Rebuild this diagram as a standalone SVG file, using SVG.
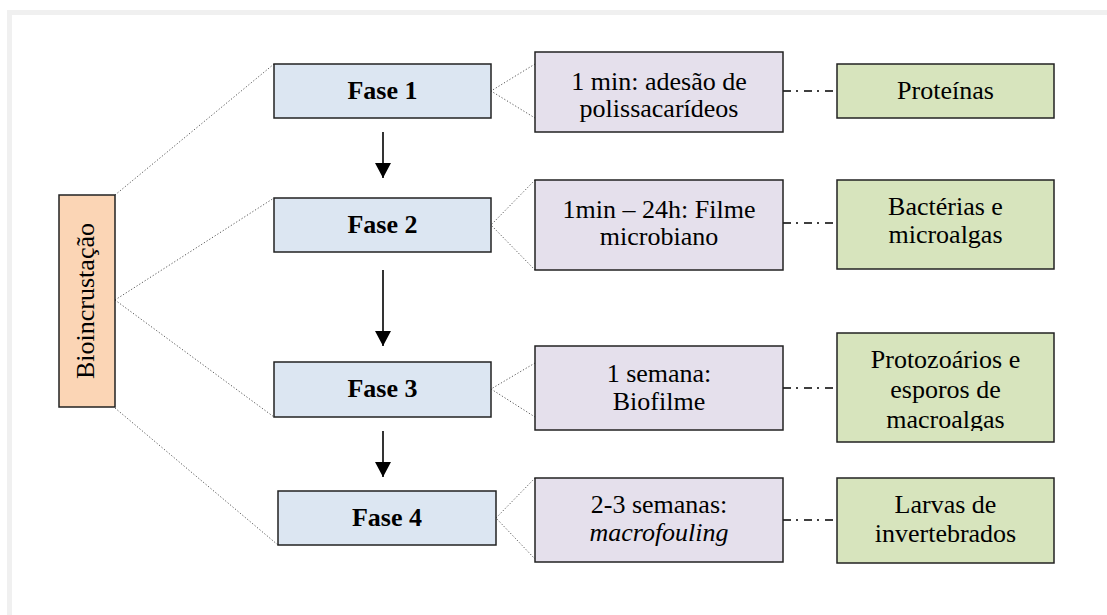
<svg xmlns="http://www.w3.org/2000/svg" width="1107" height="615" viewBox="0 0 1107 615">
<style>
.t{font-family:'Liberation Serif','Times New Roman','DejaVu Serif',serif;font-size:26px;fill:#000;text-anchor:middle}
.b{font-weight:bold}
.i{font-style:italic}
.box{stroke:#222;stroke-width:1.5}
.fase{fill:#dce6f2}
.main{fill:#fbd5b5}
.time{fill:#e5e0ec}
.org{fill:#d7e4bd}
.dot{fill:none;stroke:#444;stroke-width:0.9;stroke-dasharray:1.2 2}
.dd{fill:none;stroke:#000;stroke-width:1.6;stroke-dasharray:8 5 2 6}
.arr{fill:none;stroke:#000;stroke-width:1.6}
</style>
<defs>
<marker id="ah" markerWidth="16" markerHeight="16" viewBox="0 0 16 16" refX="15" refY="8" orient="auto" markerUnits="userSpaceOnUse">
<path d="M0,0 L15,8 L0,16 Z" fill="#000"/>
</marker>
<clipPath id="clip3"><rect x="837" y="333" width="217" height="98"/></clipPath>
</defs>
<rect x="0" y="0" width="1107" height="615" fill="#fff"/>
<rect x="7" y="10" width="1100" height="5" fill="#f0f0f0"/>
<rect x="7" y="10" width="5" height="605" fill="#f0f0f0"/>

<g id="connectors">
<line class="dot" x1="115" y1="195" x2="274" y2="64"/>
<line class="dot" x1="115" y1="300" x2="274" y2="198"/>
<line class="dot" x1="115" y1="300" x2="274" y2="417"/>
<line class="dot" x1="115" y1="408" x2="278" y2="545"/>
<polyline class="dot" points="535,64 491,91 535,118"/>
<polyline class="dot" points="535,180 491,225 535,270"/>
<polyline class="dot" points="535,363 491,389 535,417"/>
<polyline class="dot" points="535,478 496,518 535,559"/>
<line class="dd" x1="783" y1="91" x2="837" y2="91"/>
<line class="dd" x1="783" y1="223" x2="837" y2="223"/>
<line class="dd" x1="783" y1="388" x2="837" y2="388"/>
<line class="dd" x1="783" y1="520" x2="837" y2="520"/>
<line class="arr" x1="383" y1="132" x2="383" y2="178" marker-end="url(#ah)"/>
<line class="arr" x1="383" y1="270" x2="383" y2="346" marker-end="url(#ah)"/>
<line class="arr" x1="383" y1="431" x2="383" y2="477" marker-end="url(#ah)"/>
</g>

<g id="bioincrustacao">
<rect class="box main" x="59" y="195" width="56" height="212"/>
<text class="t" font-family="Liberation Serif, serif" x="87" y="308" transform="rotate(-90 87 301)">Bioincrustação</text>
</g>

<g id="fase1">
<rect class="box fase" x="274" y="64" width="217" height="54"/>
<text class="t b" font-family="Liberation Serif, serif" x="382.5" y="99">Fase 1</text>
</g>
<g id="fase2">
<rect class="box fase" x="274" y="198" width="217" height="54"/>
<text class="t b" font-family="Liberation Serif, serif" x="382.5" y="233">Fase 2</text>
</g>
<g id="fase3">
<rect class="box fase" x="274" y="362" width="217" height="55"/>
<text class="t b" font-family="Liberation Serif, serif" x="382.5" y="397">Fase 3</text>
</g>
<g id="fase4">
<rect class="box fase" x="278" y="491" width="218" height="54"/>
<text class="t b" font-family="Liberation Serif, serif" x="387" y="526">Fase 4</text>
</g>

<g id="tempo1" font-family="Liberation Serif, serif">
<rect class="box time" x="535" y="52" width="248" height="80"/>
<text class="t" x="659" y="90">1 min: adesão de</text>
<text class="t" x="659" y="117">polissacarídeos</text>
</g>
<g id="tempo2" font-family="Liberation Serif, serif">
<rect class="box time" x="535" y="180" width="248" height="90"/>
<text class="t" x="659" y="218">1min – 24h: Filme</text>
<text class="t" x="659" y="245">microbiano</text>
</g>
<g id="tempo3" font-family="Liberation Serif, serif">
<rect class="box time" x="535" y="346" width="248" height="84"/>
<text class="t" x="659" y="382">1 semana:</text>
<text class="t" x="659" y="410">Biofilme</text>
</g>
<g id="tempo4" font-family="Liberation Serif, serif">
<rect class="box time" x="535" y="478" width="248" height="84"/>
<text class="t" x="659" y="513">2-3 semanas:</text>
<text class="t i" x="659" y="541">macrofouling</text>
</g>

<g id="org1" font-family="Liberation Serif, serif">
<rect class="box org" x="837" y="64" width="217" height="54"/>
<text class="t" x="945.5" y="99">Proteínas</text>
</g>
<g id="org2" font-family="Liberation Serif, serif">
<rect class="box org" x="837" y="180" width="217" height="89"/>
<text class="t" x="945.5" y="215">Bactérias e</text>
<text class="t" x="945.5" y="243">microalgas</text>
</g>
<g id="org3" font-family="Liberation Serif, serif">
<rect class="box org" x="837" y="333" width="217" height="109"/>
<g clip-path="url(#clip3)">
<text class="t" x="945.5" y="368">Protozoários e</text>
<text class="t" x="945.5" y="398">esporos de</text>
<text class="t" x="945.5" y="428">macroalgas</text>
</g>
</g>
<g id="org4" font-family="Liberation Serif, serif">
<rect class="box org" x="837" y="478" width="217" height="85"/>
<text class="t" x="945.5" y="513">Larvas de</text>
<text class="t" x="945.5" y="542">invertebrados</text>
</g>
</svg>
